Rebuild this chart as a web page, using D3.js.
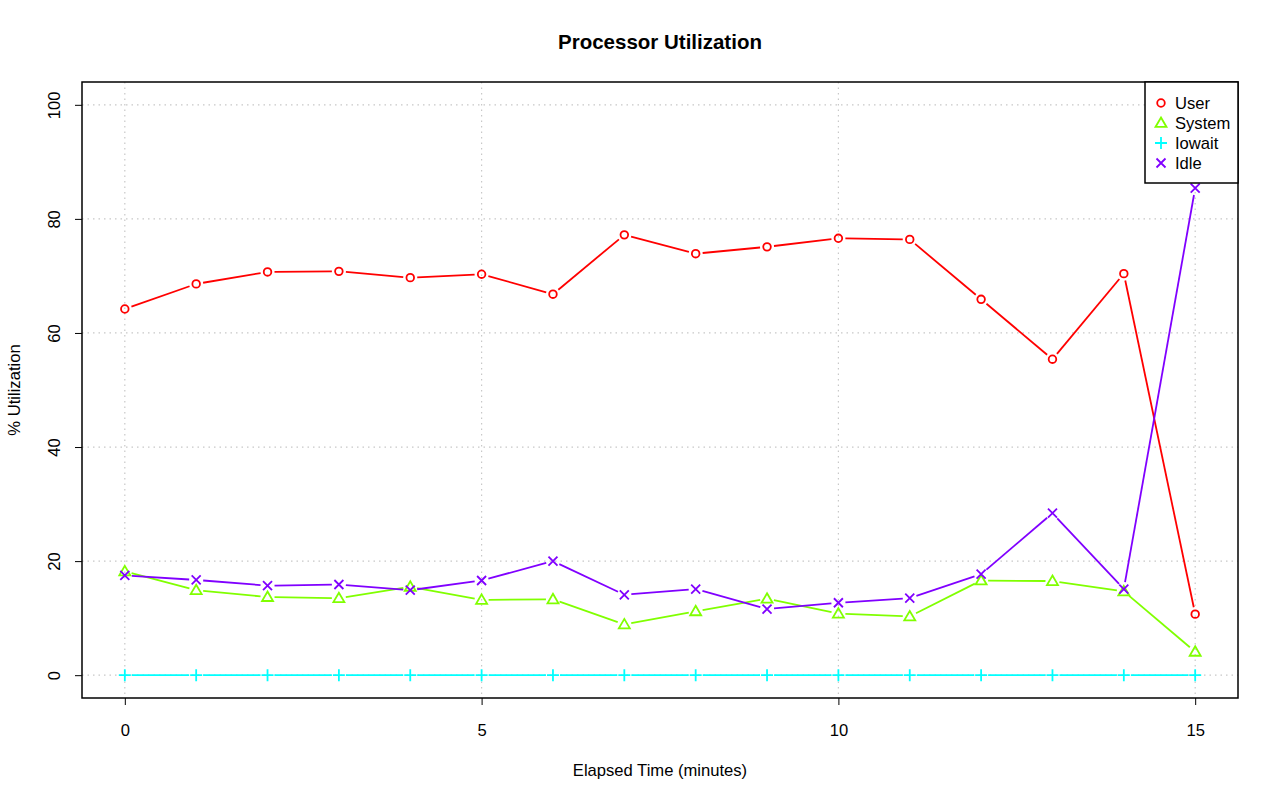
<!DOCTYPE html>
<html lang="en">
<head>
  <meta charset="UTF-8" />
  <title>Processor Utilization</title>
  <script src="https://d3js.org/d3.v7.min.js"></script>
  <style>
    body { margin: 0; background: #fff; }
    svg text { font-family: "Liberation Sans", Arial, sans-serif; fill: #000; }
  </style>
</head>
<body>
  <div id="chart"></div>

  <script>
    // Données
    const minutes = [0, 1, 2, 3, 4, 5, 6, 7, 8, 9, 10, 11, 12, 13, 14, 15];
    const user   = [64.2, 68.6, 70.7, 70.8, 69.7, 70.3, 66.8, 77.2, 73.9, 75.1, 76.6, 76.4, 65.9, 55.4, 70.4, 10.7];
    const system = [18.2, 14.9, 13.7, 13.5, 15.5, 13.2, 13.3, 8.9, 11.2, 13.4, 10.8, 10.3, 16.6, 16.5, 14.7, 4.1];
    const iowait = [0, 0, 0, 0, 0, 0, 0, 0, 0, 0, 0, 0, 0, 0, 0, 0];
    const idle   = [17.5, 16.7, 15.7, 15.9, 14.9, 16.6, 20.0, 14.1, 15.1, 11.6, 12.7, 13.5, 17.7, 28.4, 15.1, 85.4];
    const seriesNames = ["User", "System", "Iowait", "Idle"];
    const xTicks = [0, 5, 10, 15];
    const yTicks = [0, 20, 40, 60, 80, 100];

    const series = [
      { name: "User",   values: user,   color: "#FF0000", shape: "circle" },
      { name: "System", values: system, color: "#80FF00", shape: "triangle" },
      { name: "Iowait", values: iowait, color: "#00FFFF", shape: "plus" },
      { name: "Idle",   values: idle,   color: "#8000FF", shape: "cross" }
    ];

    const width = 1280, height = 801;
    const plot = { left: 82, right: 1238, top: 82, bottom: 698 };
    const labelSize = "16.6px";

    const svg = d3.select("#chart").append("svg")
      .attr("width", width)
      .attr("height", height);

    // Échelles (étendues de 4 % comme R)
    const x = d3.scaleLinear().domain([-0.6, 15.6]).range([plot.left, plot.right]);
    const y = d3.scaleLinear().domain([-4, 104]).range([plot.bottom, plot.top]);

    // Grille pointillée
    const grid = svg.append("g").attr("stroke", "#c8c8c8").attr("stroke-dasharray", "1.5,4").attr("stroke-width", 1.2);
    xTicks.forEach(t => {
      grid.append("line").attr("x1", x(t)).attr("x2", x(t)).attr("y1", plot.top).attr("y2", plot.bottom);
    });
    yTicks.forEach(t => {
      grid.append("line").attr("x1", plot.left).attr("x2", plot.right).attr("y1", y(t)).attr("y2", y(t));
    });

    // Axes
    const xAxis = svg.append("g")
      .attr("transform", `translate(0, ${plot.bottom})`)
      .call(d3.axisBottom(x).tickValues(xTicks).tickSize(7).tickFormat(d3.format("d")));
    xAxis.select(".domain").remove();
    xAxis.selectAll("line").attr("stroke", "#000");
    xAxis.selectAll("text").style("font-size", labelSize).attr("dy", null).attr("y", 38);

    const yAxis = svg.append("g")
      .attr("transform", `translate(${plot.left}, 0)`)
      .call(d3.axisLeft(y).tickValues(yTicks).tickSize(7).tickFormat(d3.format("d")));
    yAxis.select(".domain").remove();
    yAxis.selectAll("line").attr("stroke", "#000");
    yAxis.selectAll("text")
      .style("font-size", labelSize)
      .attr("x", null).attr("dy", null)
      .attr("text-anchor", "middle")
      .attr("transform", "translate(-22,0) rotate(-90)");

    // Cadre
    svg.append("rect")
      .attr("x", plot.left).attr("y", plot.top)
      .attr("width", plot.right - plot.left).attr("height", plot.bottom - plot.top)
      .attr("fill", "none").attr("stroke", "#000").attr("stroke-width", 1.5);

    // Titres
    svg.append("text").attr("x", (plot.left + plot.right) / 2).attr("y", 49)
      .attr("text-anchor", "middle").style("font-size", "20.5px").style("font-weight", "bold")
      .text("Processor Utilization");
    svg.append("text").attr("x", (plot.left + plot.right) / 2).attr("y", 776)
      .attr("text-anchor", "middle").style("font-size", labelSize)
      .text("Elapsed Time (minutes)");
    svg.append("text")
      .attr("transform", `translate(20, ${(plot.top + plot.bottom) / 2}) rotate(-90)`)
      .attr("text-anchor", "middle").style("font-size", labelSize)
      .text("% Utilization");

    // Symboles
    function drawSymbol(g, shape, cx, cy, color) {
      const r = 4.5;
      if (shape === "circle") {
        g.append("circle").attr("cx", cx).attr("cy", cy).attr("r", 3.8)
          .attr("fill", "none").attr("stroke", color).attr("stroke-width", 1.8);
      } else if (shape === "triangle") {
        const h = 5.5;
        g.append("path")
          .attr("d", `M${cx},${cy - h} L${cx + h},${cy + h * 0.72} L${cx - h},${cy + h * 0.72} Z`)
          .attr("fill", "none").attr("stroke", color).attr("stroke-width", 1.8);
      } else if (shape === "plus") {
        const s = 6;
        g.append("path").attr("d", `M${cx - s},${cy} H${cx + s} M${cx},${cy - s} V${cy + s}`)
          .attr("stroke", color).attr("stroke-width", 1.8);
      } else {
        g.append("path").attr("d", `M${cx - r},${cy - r} L${cx + r},${cy + r} M${cx - r},${cy + r} L${cx + r},${cy - r}`)
          .attr("stroke", color).attr("stroke-width", 1.8);
      }
    }

    // Lignes type "b" (segments interrompus autour des points)
    const gap = 7;
    series.forEach(s => {
      const g = svg.append("g");
      for (let i = 0; i < minutes.length - 1; i++) {
        const x1 = x(minutes[i]), y1 = y(s.values[i]);
        const x2 = x(minutes[i + 1]), y2 = y(s.values[i + 1]);
        const len = Math.hypot(x2 - x1, y2 - y1);
        if (len <= 2 * gap) continue;
        const ux = (x2 - x1) / len, uy = (y2 - y1) / len;
        g.append("line")
          .attr("x1", x1 + ux * gap).attr("y1", y1 + uy * gap)
          .attr("x2", x2 - ux * gap).attr("y2", y2 - uy * gap)
          .attr("stroke", s.color).attr("stroke-width", 1.8);
      }
      minutes.forEach((m, i) => drawSymbol(g, s.shape, x(m), y(s.values[i]), s.color));
    });

    // Légende
    const legend = svg.append("g");
    legend.append("rect").attr("x", 1145).attr("y", plot.top).attr("width", plot.right - 1145).attr("height", 101)
      .attr("fill", "#fff").attr("stroke", "#000").attr("stroke-width", 1.5);
    series.forEach((s, i) => {
      const ly = 103 + i * 20;
      drawSymbol(legend, s.shape, 1161, ly, s.color);
      legend.append("text").attr("x", 1175).attr("y", ly + 6).style("font-size", labelSize).text(seriesNames[i]);
    });
  </script>
</body>
</html>
